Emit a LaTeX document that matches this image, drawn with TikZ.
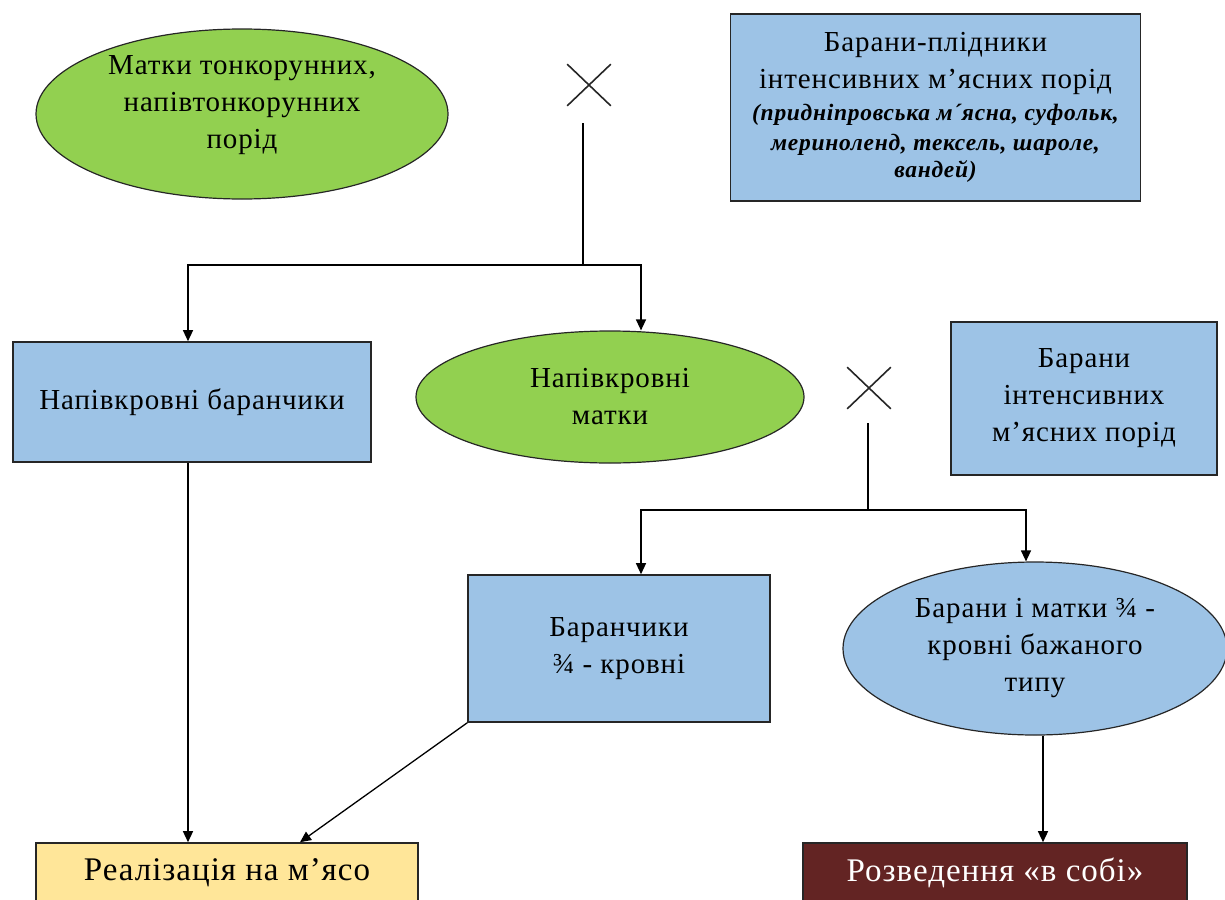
\documentclass[tikz,border=0pt]{standalone}
\usepackage{fontspec}
\setmainfont[LetterSpace=3]{Liberation Serif}
\usetikzlibrary{shapes.geometric, shapes.misc, arrows.meta}

\definecolor{ovalgreen}{RGB}{146,208,80}
\definecolor{boxblue}{RGB}{157,195,230}
\definecolor{meatyellow}{RGB}{255,230,153}
\definecolor{darkmaroon}{RGB}{99,36,35}

\newcommand{\breedfont}{\fontsize{23.5}{28}\selectfont\bfseries\itshape}

\begin{document}
\begin{tikzpicture}
            [x=1pt, y=-1pt, >={Triangle[length=11pt,width=10pt]}, line width=1.3pt,
             txt/.style={align=center, font=\fontsize{29}{37}\selectfont, inner sep=0pt},
             box/.style={txt, rectangle, draw=black!85, line width=1.6pt, fill=boxblue},
             oval/.style={txt, ellipse, draw=black!85, line width=1.2pt},
             crossmark/.style={cross out, draw=black!85, line width=1.6pt, minimum width=42pt, minimum height=40pt, inner sep=0pt}]
            \useasboundingbox (0,0) rectangle (1225,899);
            \clip (0,0) rectangle (1225,899);

            \node[oval, fill=ovalgreen, minimum width=412pt, minimum height=170pt] (ewesfine) at (242,114) {};
            \node[txt] (ewesfinetext) at (242,105) {Матки тонкорунних,\\напівтонкорунних\\порід};
            \node[crossmark] (cross1) at (589,85) {};
            \node[box, minimum width=410pt, minimum height=187pt] (rams) at (935.5,107.5)
                {Барани-плідники\\інтенсивних м’ясних порід\\[-5pt]
                 {\breedfont (придніпровська м´ясна, суфольк,}\\[-7pt]
                 {\breedfont мериноленд, тексель, шароле,}\\[-10pt]
                 {\breedfont вандей)}};

            \node[box, minimum width=358pt, minimum height=120pt] (halframs) at (192,402) {Напівкровні баранчики};
            \node[oval, fill=ovalgreen, minimum width=388pt, minimum height=132pt] (halfewes) at (610,397) {Напівкровні\\матки};
            \node[crossmark] (cross2) at (869,388) {};
            \node[box, minimum width=266pt, minimum height=153pt] (ramsmeat) at (1084,398.5) {Барани\\інтенсивних\\м’ясних порід};

            \node[box, minimum width=302pt, minimum height=147pt] (lambs) at (619,648.5) {Баранчики\\¾ - кровні};
            \node[oval, fill=boxblue, minimum width=384pt, minimum height=173pt] (crossbred) at (1035,648.5) {Барани і матки ¾ -\\кровні бажаного\\типу};

            \node[box, fill=meatyellow, minimum width=382pt, minimum height=60pt, font=\fontsize{33}{37}\selectfont] (meat) at (227,873) {Реалізація на м’ясо};
            \node[box, fill=darkmaroon, text=white, minimum width=384pt, minimum height=60pt, font=\fontsize{33}{37}\selectfont] (breeding) at (995,873) {Розведення «в собі»};

            % first crossing
            \coordinate (fork1top) at (583,123);
            \coordinate (fork1) at (583,265);
            \draw (fork1top) -- (fork1);
            \draw[->] (fork1) -| ([xshift=-4pt]halframs.north);
            \draw[->] (fork1) -| ([xshift=31pt]halfewes.north);

            % second crossing
            \coordinate (fork2top) at (868,423);
            \coordinate (fork2) at (868,510);
            \draw (fork2top) -- (fork2);
            \draw[->] (fork2) -| ([xshift=22pt]lambs.north);
            \draw[->] (fork2) -| ([xshift=-9pt]crossbred.north);

            \draw[->] ([xshift=-4pt]halframs.south) -- ([xshift=-4pt]halframs.south |- meat.north);
            \draw[->] (lambs.south west) -- ([xshift=73pt]meat.north);
            \draw[->] ([xshift=8pt]crossbred.south) -- ([xshift=48pt]breeding.north);
        \end{tikzpicture}
\end{document}
